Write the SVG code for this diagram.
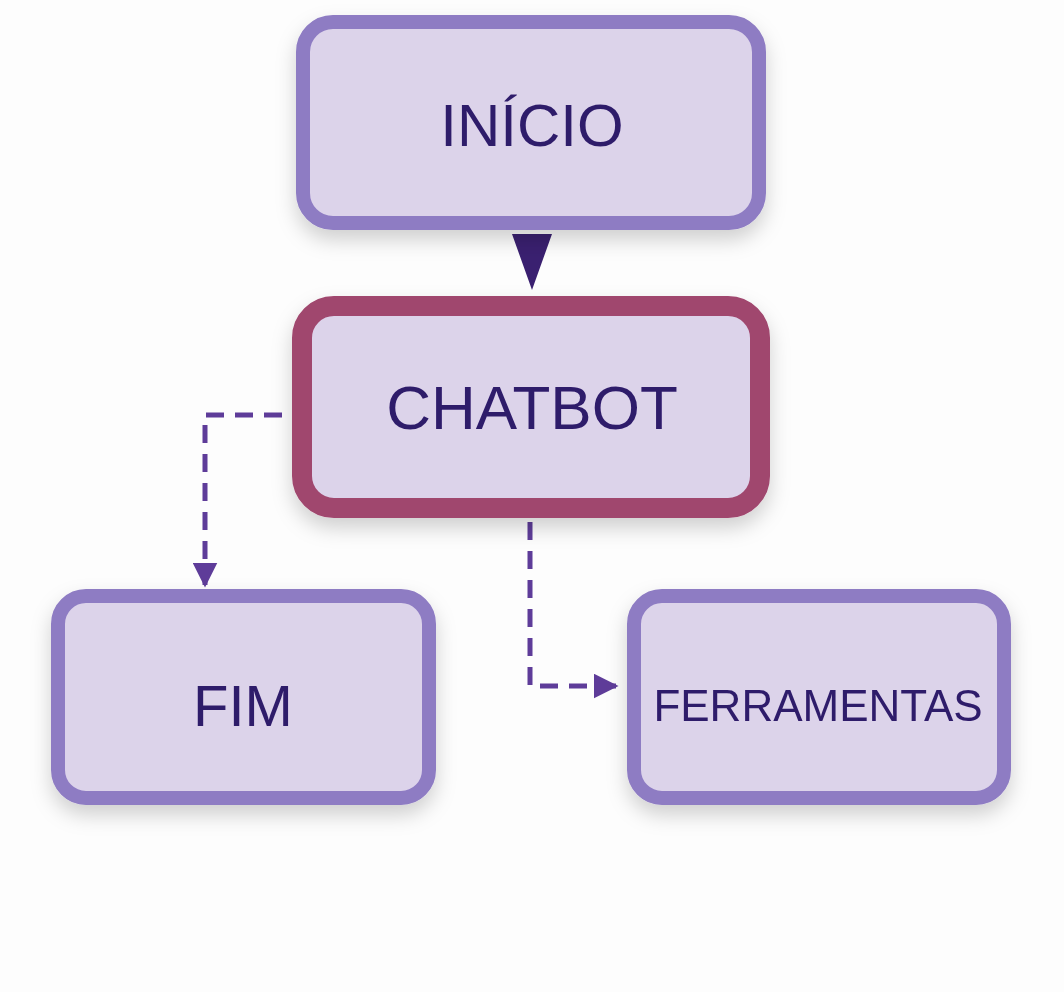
<svg xmlns="http://www.w3.org/2000/svg" width="1064" height="992" viewBox="0 0 1064 992">
<style>
.box{fill:#dcd3ea;stroke:#8e7cc3;stroke-width:14}
.main{fill:#dcd3ea;stroke:#a0466e;stroke-width:20}
.t{font-family:"Liberation Sans",Arial,sans-serif;fill:#2e1a6b;text-anchor:middle;dominant-baseline:central}
.c{fill:none;stroke:#5e3c99;stroke-width:5;stroke-dasharray:18 11}
</style>
<defs>
<filter id="sh" x="-20%" y="-20%" width="140%" height="150%"><feDropShadow dx="0" dy="10" stdDeviation="10" flood-color="#000" flood-opacity="0.18"/></filter>
<marker id="ah" viewBox="0 0 10 10" refX="9" refY="5" markerWidth="5" markerHeight="5" orient="auto" markerUnits="strokeWidth"><path d="M0,0L10,5L0,10z" fill="#5e3c99"/></marker>
</defs>
<rect width="1064" height="992" fill="#fdfdfd"/>
<g id="connectors">
<path d="M532,232 L512,234 L552,234 L532,290 L512,234z" fill="#3a2070"/>
<path class="c" d="M282,415 H205 V585" marker-end="url(#ah)"/>
<path class="c" d="M530,522 V686 H616" marker-end="url(#ah)"/>
</g>
<g id="inicio" filter="url(#sh)"><rect class="box" x="303" y="22" width="456" height="201" rx="30"/><text class="t" x="532" y="125" font-size="60">INÍCIO</text></g>
<g id="chatbot" filter="url(#sh)"><rect class="main" x="302" y="306" width="458" height="202" rx="32"/><text class="t" x="532" y="407" font-size="62">CHATBOT</text></g>
<g id="fim" filter="url(#sh)"><rect class="box" x="58" y="596" width="371" height="202" rx="28"/><text class="t" x="243" y="705" font-size="58">FIM</text></g>
<g id="ferramentas" filter="url(#sh)"><rect class="box" x="634" y="596" width="370" height="202" rx="28"/><text class="t" x="818" y="705" font-size="44">FERRAMENTAS</text></g>
</svg>
